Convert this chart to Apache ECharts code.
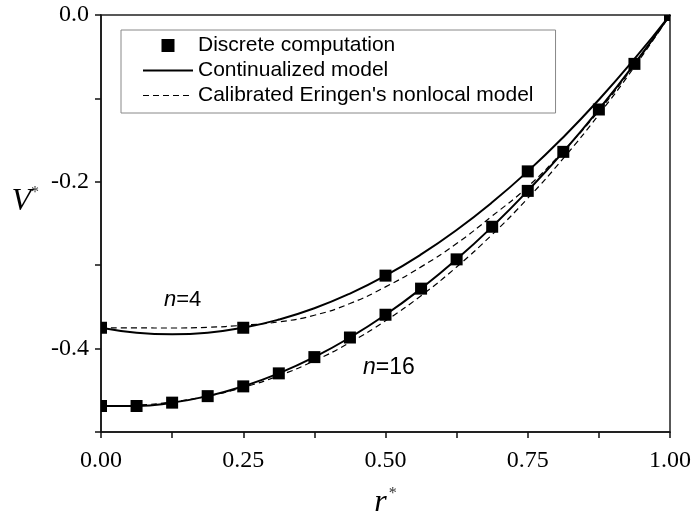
<!DOCTYPE html>
<html><head><meta charset="utf-8">
<script src="https://cdn.jsdelivr.net/npm/echarts@6/dist/echarts.min.js"></script>
<style>html,body{margin:0;padding:0;background:#fff}#c{width:695px;height:521px}</style>
</head><body><div id="c"></div>
<script>
// r* sample positions
const rFine = [0,0.0625,0.125,0.1875,0.25,0.3125,0.375,0.4375,0.5,0.5625,0.625,0.6875,0.75,0.8125,0.875,0.9375,1];
const rDisc4 = [0,0.25,0.5,0.75,1];
const vDisc4 = [-0.375,-0.375,-0.3125,-0.1875,0];
const rDisc16 = [0,0.0625,0.125,0.1875,0.25,0.3125,0.375,0.4375,0.5,0.5625,0.625,0.6875,0.75,0.8125,0.875,0.9375,1];
const vDisc16 = [-0.4688,-0.4688,-0.4648,-0.4570,-0.4453,-0.4297,-0.4102,-0.3867,-0.3594,-0.3281,-0.2930,-0.2539,-0.2109,-0.1641,-0.1133,-0.0586,0];
const vCont4 = [-0.375,-0.3809,-0.3828,-0.3809,-0.375,-0.3652,-0.3516,-0.3340,-0.3125,-0.2871,-0.2578,-0.2246,-0.1875,-0.1465,-0.1016,-0.0527,0];
const vCont16 = [-0.4688,-0.4688,-0.4648,-0.4570,-0.4453,-0.4297,-0.4102,-0.3867,-0.3594,-0.3281,-0.2930,-0.2539,-0.2109,-0.1641,-0.1133,-0.0586,0];
const vEringen4 = [-0.375,-0.3752,-0.3753,-0.3745,-0.372,-0.368,-0.360,-0.346,-0.326,-0.302,-0.274,-0.241,-0.206,-0.163,-0.115,-0.060,0];
const vEringen16 = [-0.4688,-0.4677,-0.4639,-0.4569,-0.4465,-0.4325,-0.4146,-0.3927,-0.3667,-0.3366,-0.3021,-0.2632,-0.2198,-0.1719,-0.1193,-0.0621,0];
const xTickLabels = {'0':'0.00','0.25':'0.25','0.5':'0.50','0.75':'0.75','1':'1.00'};
const yTickLabels = {'0':'0.0','-0.2':'-0.2','-0.4':'-0.4'};

const NAME_D = 'Discrete computation';
const NAME_C = 'Continualized model';
const NAME_E = "Calibrated Eringen's nonlocal model";

const pairs = (xs, ys) => xs.map((x, i) => [x, ys[i]]);

const chart = echarts.init(document.getElementById('c'), null, {renderer: 'canvas'});
const serif = 'Liberation Serif, Times New Roman, serif';
const sans = 'Liberation Sans, Arial, sans-serif';

// filled square marker, clipped by the plot area
function squareItem(params, api) {
  const p = api.coord([api.value(0), api.value(1)]);
  const s = 12;
  return {type: 'rect', shape: {x: p[0] - s / 2, y: p[1] - s / 2, width: s, height: s},
    style: {fill: '#000'}};
}

chart.setOption({
  animation: false,
  backgroundColor: '#fff',
  grid: {left: 101, right: 25, top: 15, bottom: 89, show: true, borderColor: '#222', borderWidth: 1.5,
    containLabel: false, outerBoundsMode: 'none'},
  xAxis: {
    type: 'value', min: 0, max: 1, interval: 0.125,
    axisLine: {show: true, onZero: false, lineStyle: {color: '#111', width: 1.5}},
    axisTick: {show: true, inside: false, length: 6, lineStyle: {color: '#111', width: 1.5}},
    splitLine: {show: false},
    axisLabel: {
      color: '#000', fontFamily: serif, fontSize: 24, margin: 17,
      formatter: v => { const k = String(Math.round(v * 1000) / 1000); return xTickLabels[k] !== undefined ? xTickLabels[k] : ''; }
    },
    name: '{r|r}{s|*}', nameLocation: 'middle', nameGap: 54,
    nameTextStyle: {
      rich: {
        r: {fontFamily: serif, fontStyle: 'italic', fontSize: 32, color: '#000', lineHeight: 34},
        s: {fontFamily: serif, fontSize: 16, color: '#333', verticalAlign: 'top', lineHeight: 16, padding: [0, 0, 0, 2]}
      }
    }
  },
  yAxis: {
    type: 'value', min: -0.5, max: 0, interval: 0.1,
    axisLine: {show: true, onZero: false, lineStyle: {color: '#111', width: 1.5}},
    axisTick: {show: true, inside: false, length: 6, lineStyle: {color: '#111', width: 1.5}},
    splitLine: {show: false},
    axisLabel: {
      color: '#000', fontFamily: serif, fontSize: 24, margin: 12,
      formatter: v => { const k = String(Math.round(v * 10) / 10); const kk = (k === '-0') ? '0' : k; return yTickLabels[kk] !== undefined ? yTickLabels[kk] : ''; }
    },
    name: '{v|V}{s|*}', nameLocation: 'middle', nameRotate: 0, nameGap: 62,
    nameTextStyle: {
      padding: [0, 0, 44, 0],
      rich: {
        v: {fontFamily: serif, fontStyle: 'italic', fontSize: 32, color: '#000', lineHeight: 34},
        s: {fontFamily: serif, fontSize: 16, color: '#333', verticalAlign: 'top', lineHeight: 16}
      }
    }
  },
  legend: {
    show: true, orient: 'vertical', left: 121, top: 30,
    padding: [5, 22, 7, 22], itemGap: 4, itemWidth: 50, itemHeight: 14,
    borderColor: '#888', borderWidth: 1, backgroundColor: '#fff',
    textStyle: {fontFamily: sans, fontSize: 21, color: '#000', lineHeight: 20},
    selectedMode: false,
    itemStyle: {color: '#000', borderWidth: 0},
    data: [
      {name: NAME_D, icon: 'path://M0,0M50,14M18.5,0.5h13v13h-13z'},
      {name: NAME_C, icon: 'path://M0,0M50,14M0,6h50v2h-50z'},
      {name: NAME_E, icon: 'path://M0,0M50,14M0,6.4h6v1.2h-6zM10,6.4h6v1.2h-6zM20,6.4h6v1.2h-6zM30,6.4h6v1.2h-6zM40,6.4h6v1.2h-6z'}
    ]
  },
  graphic: [
    {type: 'text', left: 164, top: 289, z: 100,
      style: {text: '{i|n}=4', font: '22px ' + sans, fill: '#000',
        rich: {i: {fontStyle: 'italic', fontFamily: sans, fontSize: 22, fill: '#000'}}}},
    {type: 'text', left: 363, top: 356, z: 100,
      style: {text: '{i|n}=16', font: '23px ' + sans, fill: '#000',
        rich: {i: {fontStyle: 'italic', fontFamily: sans, fontSize: 23, fill: '#000'}}}}
  ],
  series: [
    {name: NAME_E, type: 'line', data: pairs(rFine, vEringen4), smooth: true, symbol: 'none',
      lineStyle: {color: '#000', width: 1.2, type: [6, 4]}, itemStyle: {color: '#000'}, z: 2},
    {name: NAME_E, type: 'line', data: pairs(rFine, vEringen16), smooth: true, symbol: 'none',
      lineStyle: {color: '#000', width: 1.2, type: [6, 4]}, itemStyle: {color: '#000'}, z: 2},
    {name: NAME_C, type: 'line', data: pairs(rFine, vCont4), smooth: true, symbol: 'none',
      lineStyle: {color: '#000', width: 2}, itemStyle: {color: '#000'}, z: 3},
    {name: NAME_C, type: 'line', data: pairs(rFine, vCont16), smooth: true, symbol: 'none',
      lineStyle: {color: '#000', width: 2}, itemStyle: {color: '#000'}, z: 3},
    {name: NAME_D, type: 'custom', data: pairs(rDisc4, vDisc4), renderItem: squareItem, clip: true,
      itemStyle: {color: '#000'}, z: 5},
    {name: NAME_D, type: 'custom', data: pairs(rDisc16, vDisc16), renderItem: squareItem, clip: true,
      itemStyle: {color: '#000'}, z: 5}
  ]
});
</script>
</body></html>
